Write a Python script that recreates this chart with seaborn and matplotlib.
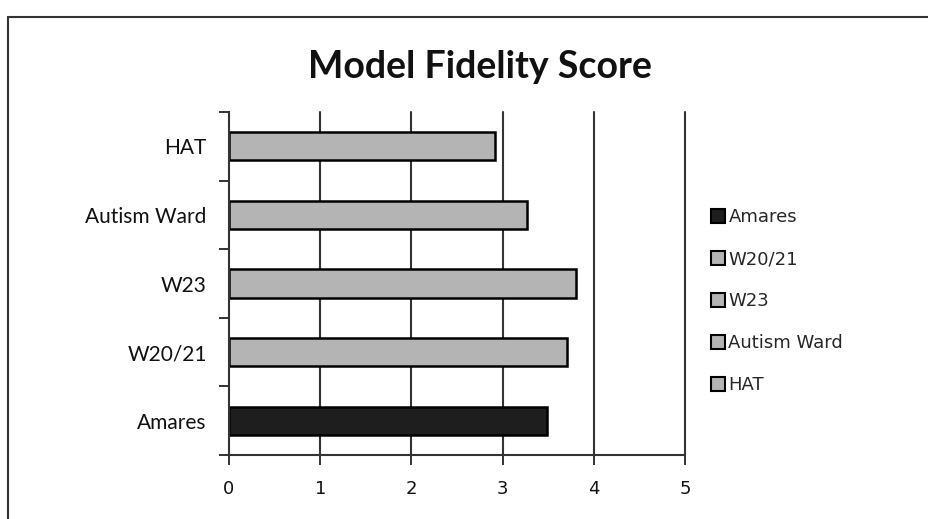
import matplotlib
matplotlib.use("Agg")
import matplotlib.pyplot as plt
import seaborn as sns
import pandas as pd
from matplotlib.patches import Patch
from matplotlib.lines import Line2D

# Fidelity scores per unit (top to bottom as drawn)
units = ["HAT", "Autism Ward", "W23", "W20/21", "Amares"]
scores = [2.92, 3.27, 3.80, 3.71, 3.49]
legend_order = ["Amares", "W20/21", "W23", "Autism Ward", "HAT"]
unit_colors = {"Amares": "#1e1e1e", "W20/21": "#b4b4b4", "W23": "#b4b4b4",
               "Autism Ward": "#b4b4b4", "HAT": "#b4b4b4"}
x_ticks = [0, 1, 2, 3, 4, 5]

df = pd.DataFrame({"unit": units, "score": scores})

sns.set_style("white")
fig = plt.figure(figsize=(9.29, 5.19), dpi=100)
ax = fig.add_axes([229 / 929, 64 / 519, 456 / 929, 343 / 519])

sns.barplot(data=df, x="score", y="unit", hue="unit", order=units,
            hue_order=legend_order, palette=unit_colors, dodge=False,
            width=0.41, edgecolor="black", linewidth=1.8, legend=False, ax=ax)

ax.set_xlim(0, 5)
ax.set_ylim(4.5, -0.5)
ax.set_xticks(x_ticks)
ax.set_xticklabels([str(t) for t in x_ticks], fontsize=13, family="DejaVu Sans")
ax.set_xlabel("")
ax.set_ylabel("")

# vertical gridlines at every unit
for t in x_ticks[1:]:
    ax.axvline(t, color="#333333", lw=1.5, zorder=0, clip_on=False)

# category labels centered, tick marks at category boundaries
ax.set_yticks(range(len(units)))
ax.set_yticklabels(units, fontsize=15, family="Lato", color="#111111")
ax.tick_params(axis="y", which="major", length=0, pad=16)
ax.set_yticks([i - 0.5 for i in range(len(units) + 1)], minor=True)
ax.tick_params(axis="y", which="minor", length=7, width=1.4, color="#333333", left=True)
ax.tick_params(axis="x", which="major", length=7, width=1.4, color="#333333",
               bottom=True, pad=11, labelcolor="#111111")

for side in ["top", "right"]:
    ax.spines[side].set_visible(False)
for side in ["left", "bottom"]:
    ax.spines[side].set_color("#333333")
    ax.spines[side].set_linewidth(1.5)

fig.text(480 / 929, 1 - 67 / 519, "Model Fidelity Score", ha="center", va="center",
         fontsize=27, fontweight="bold", family="Lato", color="#111111")

handles = [Patch(facecolor=unit_colors[u], edgecolor="black", linewidth=1.5)
           for u in legend_order]
fig.legend(handles, legend_order, loc="upper left",
           bbox_to_anchor=(704 / 929, 1 - 201 / 519), frameon=False,
           prop={"family": "DejaVu Sans", "size": 13},
           handlelength=0.75, handleheight=0.75, handletextpad=0.2,
           labelspacing=1.33, borderaxespad=0)

# outer frame
fig.add_artist(Line2D([8 / 929, 1], [1 - 17 / 519, 1 - 17 / 519],
                      transform=fig.transFigure, color="#333333", lw=1.5))
fig.add_artist(Line2D([8 / 929, 8 / 929], [0, 1 - 17 / 519],
                      transform=fig.transFigure, color="#333333", lw=1.5))

fig.savefig("out.png", dpi=100)
